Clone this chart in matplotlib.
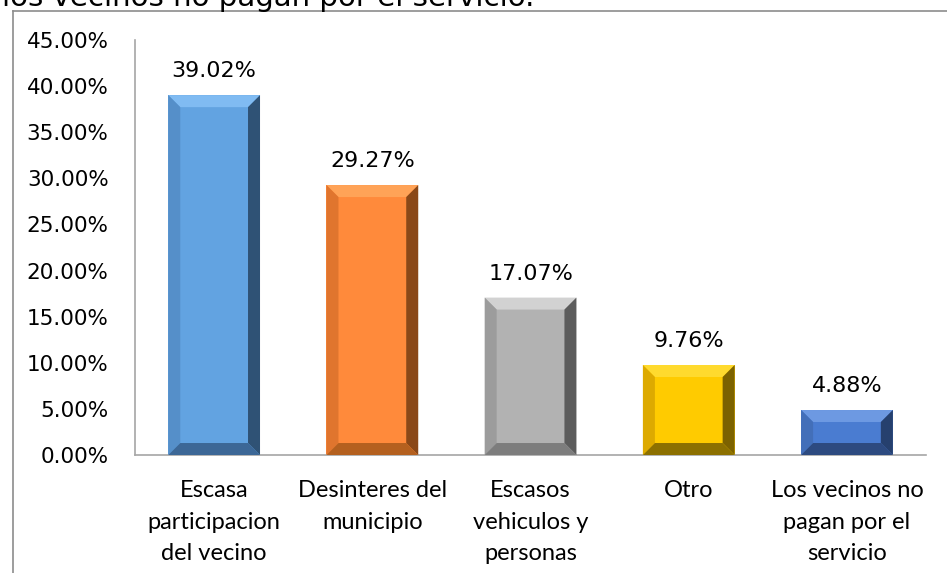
import matplotlib
matplotlib.use('Agg')
import matplotlib.pyplot as plt
from matplotlib.patches import Polygon
from matplotlib.lines import Line2D
from matplotlib.ticker import FuncFormatter

# Razones por las que no funciona el servicio
categories = ['Escasa\nparticipacion\ndel vecino', 'Desinteres del\nmunicipio',
              'Escasos\nvehiculos y\npersonas', 'Otro',
              'Los vecinos no\npagan por el\nservicio']
values = [39.02, 29.27, 17.07, 9.76, 4.88]
y_ticks = [0, 5, 10, 15, 20, 25, 30, 35, 40, 45]

# face, top, left, right, bottom shades for the bevelled bars
shades = [
    ('#62A3E1', '#80BBF2', '#558FC9', '#2F5275', '#3C6796'),
    ('#FF8A3B', '#FFA357', '#E0752E', '#8A4818', '#B4601F'),
    ('#B2B2B2', '#D2D2D2', '#9C9C9C', '#5C5C5C', '#7D7D7D'),
    ('#FFCB00', '#FFDA2E', '#DDAA00', '#7C6200', '#8C7000'),
    ('#4A7CD1', '#6D99E2', '#436FB9', '#26406E', '#2D4A80'),
]

fig = plt.figure(figsize=(9.47, 5.73), dpi=100)
ax = fig.add_axes([0.1426, 0.2059, 0.8353, 0.7243])

x = list(range(len(values)))
width = 0.58
ax.set_xlim(-0.5, len(values) - 0.5)
ax.set_ylim(0, 45)

# bevel size in pixels, converted to data units
bevel = 12
ax_w = 0.8353 * 947
ax_h = 0.7243 * 573
bx = bevel * len(values) / ax_w
by = bevel * 45 / ax_h

for xi, v, (face, top, left, right, bottom) in zip(x, values, shades):
    x0, x1 = xi - width / 2, xi + width / 2
    ax.bar(xi, v, width=width, color=face, edgecolor='none', zorder=2)
    ix0, ix1 = x0 + bx, x1 - bx
    iy0, iy1 = by, v - by
    ax.add_patch(Polygon([(x0, v), (x1, v), (ix1, iy1), (ix0, iy1)], closed=True,
                         color=top, lw=0, zorder=3))
    ax.add_patch(Polygon([(x0, 0), (x0, v), (ix0, iy1), (ix0, iy0)], closed=True,
                         color=left, lw=0, zorder=3))
    ax.add_patch(Polygon([(x1, 0), (x1, v), (ix1, iy1), (ix1, iy0)], closed=True,
                         color=right, lw=0, zorder=3))
    ax.add_patch(Polygon([(x0, 0), (x1, 0), (ix1, iy0), (ix0, iy0)], closed=True,
                         color=bottom, lw=0, zorder=3))
    ax.text(xi, v + 1.5, '%.2f%%' % v, ha='center', va='bottom',
            fontsize=16, family='DejaVu Sans', color='#000000')

ax.set_yticks(y_ticks)
ax.yaxis.set_major_formatter(FuncFormatter(lambda val, pos: '%.2f%%' % val))
ax.set_xticks(x)
ax.set_xticklabels(categories, family='Lato', fontsize=17, linespacing=1.62)
ax.tick_params(axis='x', length=0, pad=18)
ax.tick_params(axis='y', length=0, pad=19, labelsize=15.5)

for s in ['top', 'right']:
    ax.spines[s].set_visible(False)
for s in ['left', 'bottom']:
    ax.spines[s].set_color('#A6A6A6')
    ax.spines[s].set_linewidth(1.2)

# outer frame of the chart area
fig.add_artist(Line2D([13 / 947, 13 / 947], [0, 1 - 10.5 / 573], color='#8C8C8C', lw=1.2))
fig.add_artist(Line2D([13 / 947, 1], [1 - 10.5 / 573, 1 - 10.5 / 573], color='#8C8C8C', lw=1.2))

# last line of the title, running off the top of the frame
title = fig.text(2 / 947, 1 - 5.5 / 573, 'los vecinos no pagan por el servicio.',
                 fontsize=20, family='DejaVu Sans', va='baseline', ha='left')
renderer = fig.canvas.get_renderer()
tw = title.get_window_extent(renderer).width
title.set_fontsize(20 * 531 / tw)

fig.savefig('out.png', dpi=100)
